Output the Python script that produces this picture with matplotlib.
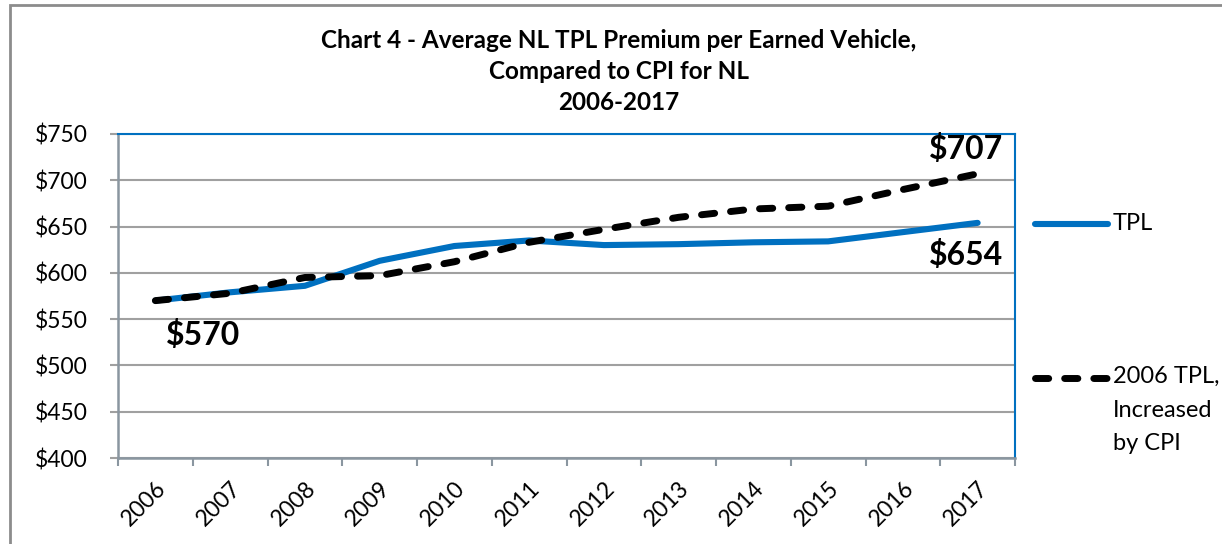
#!/usr/bin/env python3

import matplotlib
matplotlib.use('Agg')
import matplotlib.pyplot as plt
from matplotlib.lines import Line2D
from matplotlib.patches import Rectangle

# chart data
years = ['2006', '2007', '2008', '2009', '2010', '2011',
         '2012', '2013', '2014', '2015', '2016', '2017']
tpl = [570, 579, 586, 613, 629, 635, 630, 631, 633, 634, 644, 654]
tpl_cpi = [570, 578, 595, 597, 612, 633, 647, 660, 669, 672, 690, 707]
y_ticks = [400, 450, 500, 550, 600, 650, 700, 750]

title = 'Chart 4 - Average NL TPL Premium per Earned Vehicle,\nCompared to CPI for NL\n2006-2017'
legend_labels = ['TPL', '2006 TPL,\nIncreased\nby CPI']

BLUE = '#0070C0'
GRID = '#A0A0A0'
AXIS = '#8A96A0'

plt.rcParams['font.family'] = ['Lato', 'DejaVu Sans']

W, H = 1222, 544
fig = plt.figure(figsize=(W / 100, H / 100), dpi=100)

# outer chart border
fig.patches.append(Rectangle((10 / W, -0.1), 1.2, 1 - 5 / H + 0.1,
                             transform=fig.transFigure, fill=False,
                             edgecolor='#8C8C8C', linewidth=2))

ax = fig.add_axes([118 / W, 1 - 458 / H, 897 / W, 324 / H])

x = list(range(len(years)))
ax.plot(x, tpl, color=BLUE, linewidth=4.4, solid_capstyle='round', zorder=3)
ax.plot(x, tpl_cpi, color='black', linewidth=5, dashes=(1.9, 2.3),
        dash_capstyle='round', zorder=4)

ax.set_xlim(-0.5, len(years) - 0.5)
ax.set_ylim(y_ticks[0], y_ticks[-1])

ax.set_yticks(y_ticks)
ax.set_yticklabels(['$%d' % v for v in y_ticks], fontsize=16.5)
ax.yaxis.grid(True, color=GRID, linewidth=1.5)
ax.set_axisbelow(True)
ax.tick_params(axis='y', length=6, width=1.5, color=GRID, pad=16)

# ticks between categories, labels at the category centres
ax.set_xticks([i - 0.5 for i in range(len(years) + 1)])
ax.set_xticklabels([])
ax.set_xticks(x, minor=True)
ax.set_xticklabels(years, minor=True, rotation=45, ha='right',
                   rotation_mode='anchor', fontsize=16.5)
ax.tick_params(axis='x', which='major', length=6, width=1.5, color=AXIS)
ax.tick_params(axis='x', which='minor', length=0, pad=14)

for side in ['left', 'bottom']:
    ax.spines[side].set_color(AXIS)
    ax.spines[side].set_linewidth(1.8)
for side in ['top', 'right']:
    ax.spines[side].set_color(BLUE)
    ax.spines[side].set_linewidth(1.5)

# data labels
lab = dict(fontsize=23, fontweight='bold', ha='center', va='center',
           textcoords='offset points')
ax.annotate('$%d' % tpl_cpi[0], (x[0], tpl_cpi[0]), xytext=(34, -25), **lab)
ax.annotate('$%d' % tpl_cpi[-1], (x[-1], tpl_cpi[-1]), xytext=(-8, 18), **lab)
ax.annotate('$%d' % tpl[-1], (x[-1], tpl[-1]), xytext=(-8, -23), **lab)

# legend, drawn beside the plot area
lx0, lx1, tx = 1035 / W, 1108 / W, 1113 / W
fig.add_artist(Line2D([lx0, lx1], [1 - 224 / H] * 2, color=BLUE,
                      linewidth=4.4, solid_capstyle='round'))
fig.text(tx, 1 - 224 / H, legend_labels[0], fontsize=17, va='center')
fig.add_artist(Line2D([lx0, lx1], [1 - 378 / H] * 2, color='black',
                      linewidth=5, dashes=(1.9, 2.3), dash_capstyle='round'))
fig.text(tx, 1 - 366 / H, legend_labels[1], fontsize=17, va='top',
         linespacing=1.74)

fig.text(619 / W, 1 - 29 / H, title, fontsize=17.5, fontweight='bold',
         ha='center', va='top', linespacing=1.43)

fig.savefig('out.png', dpi=100)
